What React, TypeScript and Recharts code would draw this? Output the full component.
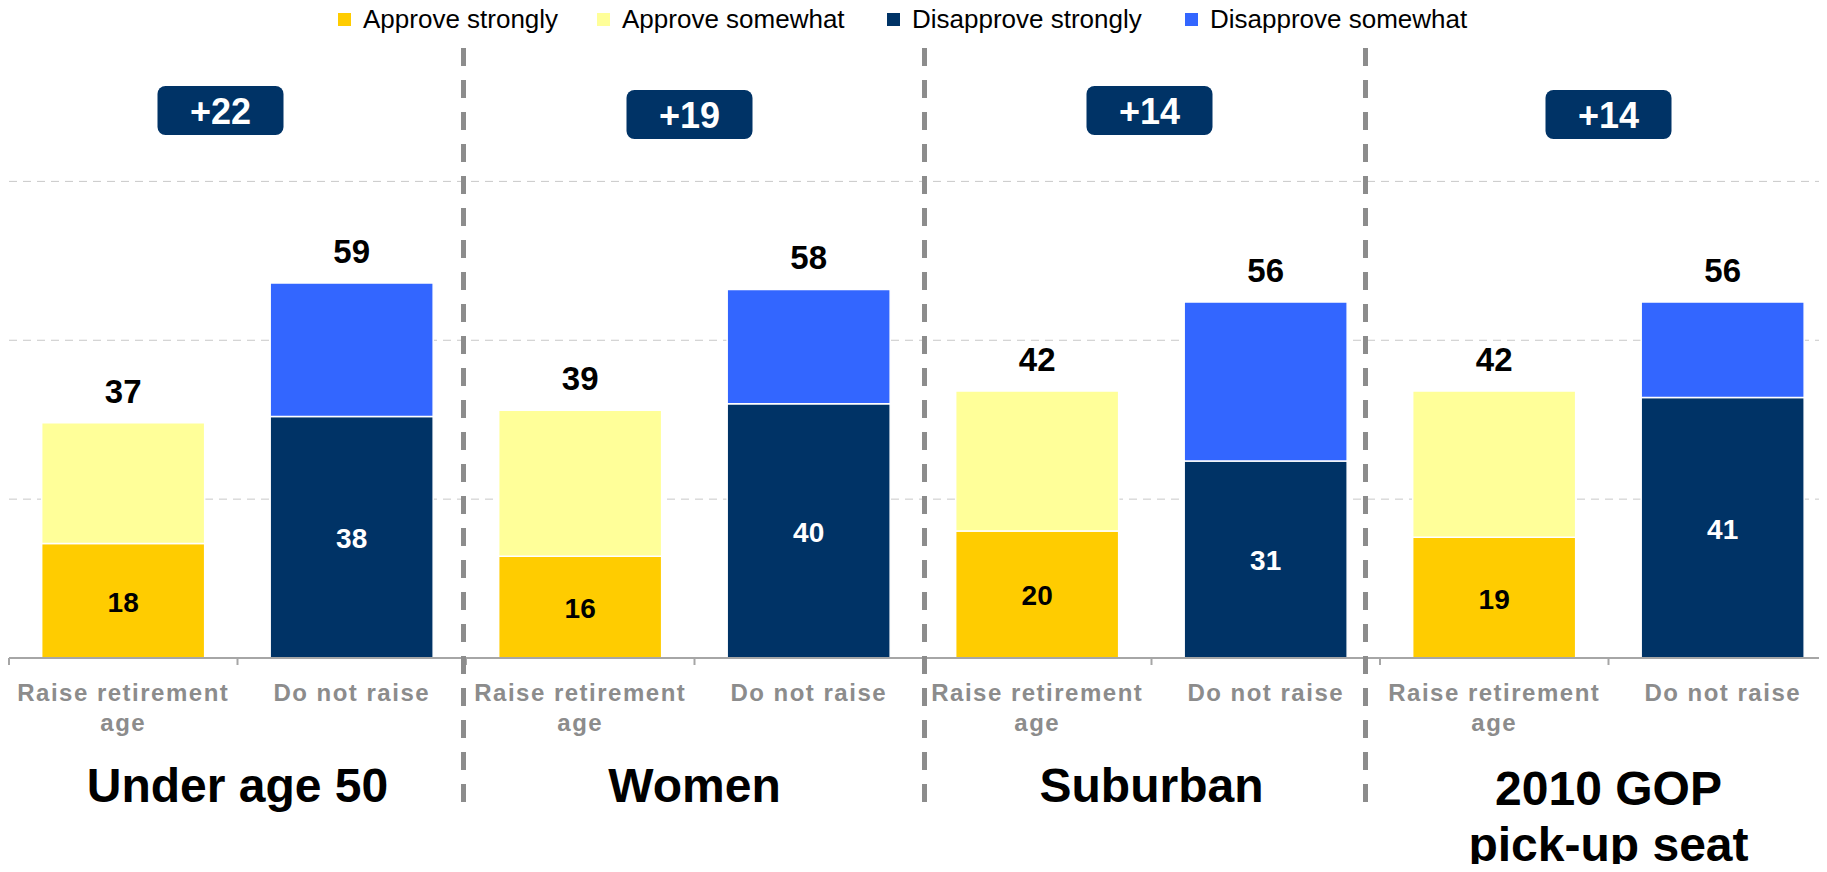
import React from "react";
import { BarChart, Bar, XAxis, YAxis, CartesianGrid, LabelList } from "recharts";

const groups = ["Under age 50", "Women", "Suburban", "2010 GOP\npick-up seat"];
const options = ["Raise retirement\nage", "Do not raise"];
const approveStrongly = [18, 16, 20, 19];
const approveSomewhat = [19, 23, 22, 23];
const disapproveStrongly = [38, 40, 31, 41];
const disapproveSomewhat = [21, 18, 25, 15];
const netMargins = ["+22", "+19", "+14", "+14"];
const legendItems = ["Approve strongly", "Approve somewhat", "Disapprove strongly", "Disapprove somewhat"];
const yTicks = [0, 25, 50, 75];

const COLORS = ["#FFCC00", "#FFFF99", "#003366", "#3366FF"];
const FONT = '"Liberation Sans", Arial, sans-serif';

// layout
const W = 1827;
const H = 872;
const PLOT_LEFT = 9;
const PLOT_TOP = 22.5;
const PLOT_BOTTOM = 658;
const BAND = 228.5;

const data = groups.flatMap((g, i) => [
  { key: `${i}-raise`, as: approveStrongly[i], aw: approveSomewhat[i], ds: 0, dw: 0 },
  { key: `${i}-keep`, as: 0, aw: 0, ds: disapproveStrongly[i], dw: disapproveSomewhat[i] },
]);

const total = (d: any) => d.as + d.aw + d.ds + d.dw;

const CategoryTick = (props: any) => {
  const { x, index } = props;
  const lines = options[index % 2].split("\n");
  const left = x - BAND / 2;
  const grp = Math.floor(index / 2);
  const gLines = groups[grp].split("\n");
  return (
    <g>
      <line x1={left} x2={left} y1={PLOT_BOTTOM} y2={PLOT_BOTTOM + 7} stroke="#a6a6a6" strokeWidth={2} />
      <text x={x} y={701} textAnchor="middle" fontSize={24} fontWeight="bold" fill="#8c8c8c" letterSpacing={1.5} fontFamily={FONT}>
        {lines.map((l, i) => (
          <tspan key={i} x={x} dy={i === 0 ? 0 : 30}>{l}</tspan>
        ))}
      </text>
      {index % 2 === 1 && (
        <text x={left} y={gLines.length > 1 ? 805 : 802} textAnchor="middle" fontSize={48} fontWeight="bold" fill="#000" fontFamily={FONT}>
          {gLines.map((l, i) => (
            <tspan key={i} x={left} dy={i === 0 ? 0 : 56}>{l}</tspan>
          ))}
        </text>
      )}
    </g>
  );
};

const insideLabel = (color: string) => (props: any) => {
  const { x, y, width, height, value } = props;
  if (!value || Math.abs(height) < 0.5) return null;
  return (
    <text x={x + width / 2} y={y + height / 2} dy={11} textAnchor="middle" fontSize={28} fontWeight="bold" fill={color} fontFamily={FONT}>
      {value}
    </text>
  );
};

const TotalLabel = (props: any) => {
  const { x, y, width, height, value } = props;
  if (!value || !height || Math.abs(height) < 0.5) return null;
  return (
    <text x={x + width / 2} y={y - 20} textAnchor="middle" fontSize={33} fontWeight="bold" fill="#000" fontFamily={FONT}>
      {value}
    </text>
  );
};

const badgeShift = [-17, -5, -2, 0];
const badgeTop = [86, 90, 86, 90];
const separatorX = [463.5, 924.5, 1365.5];
const legendX = [338, 597, 887, 1185];

const App: React.FC = () => (
  <div style={{ position: "relative", width: W, height: H, margin: -8, overflow: "hidden", background: "#fff", fontFamily: FONT }}>
    <BarChart
      width={PLOT_LEFT + BAND * 8}
      height={H}
      data={data}
      margin={{ top: PLOT_TOP, right: 0, left: PLOT_LEFT, bottom: 0 }}
      barCategoryGap="14.3%"
    >
      <CartesianGrid vertical={false} horizontalValues={yTicks} stroke="#c8c8c8" strokeDasharray="8 6" />
      <YAxis hide domain={[0, 100]} ticks={yTicks} />
      <XAxis
        dataKey="key"
        height={H - PLOT_BOTTOM}
        interval={0}
        tickLine={false}
        axisLine={{ stroke: "#a6a6a6", strokeWidth: 2 }}
        tick={<CategoryTick />}
      />
      <Bar dataKey="as" stackId="s" fill={COLORS[0]} stroke="#fff" strokeWidth={1.5} isAnimationActive={false}>
        <LabelList dataKey="as" content={insideLabel("#000")} />
      </Bar>
      <Bar dataKey="aw" stackId="s" fill={COLORS[1]} stroke="#fff" strokeWidth={1.5} isAnimationActive={false}>
        <LabelList dataKey={total} content={TotalLabel} />
      </Bar>
      <Bar dataKey="ds" stackId="s" fill={COLORS[2]} stroke="#fff" strokeWidth={1.5} isAnimationActive={false}>
        <LabelList dataKey="ds" content={insideLabel("#fff")} />
      </Bar>
      <Bar dataKey="dw" stackId="s" fill={COLORS[3]} stroke="#fff" strokeWidth={1.5} isAnimationActive={false}>
        <LabelList dataKey={total} content={TotalLabel} />
      </Bar>
    </BarChart>
    <svg width={W} height={H} style={{ position: "absolute", left: 0, top: 0, pointerEvents: "none" }}>
      {legendItems.map((name, i) => (
        <g key={name}>
          <rect x={legendX[i]} y={13} width={13} height={13} fill={COLORS[i]} />
          <text x={legendX[i] + 25} y={28} fontSize={26} fill="#000" fontFamily={FONT}>{name}</text>
        </g>
      ))}
      {separatorX.map((sx) => (
        <line key={sx} x1={sx} x2={sx} y1={48} y2={815} stroke="#8c8c8c" strokeWidth={5} strokeDasharray="18 14" />
      ))}
      {netMargins.map((m, i) => {
        const cx = PLOT_LEFT + BAND * (2 * i + 1) + badgeShift[i];
        return (
          <g key={i}>
            <rect x={cx - 63} y={badgeTop[i]} width={126} height={49} rx={8} fill="#003366" />
            <text x={cx} y={badgeTop[i] + 38} textAnchor="middle" fontSize={36} fontWeight="bold" fill="#fff" fontFamily={FONT}>{m}</text>
          </g>
        );
      })}
    </svg>
  </div>
);

export default App;
